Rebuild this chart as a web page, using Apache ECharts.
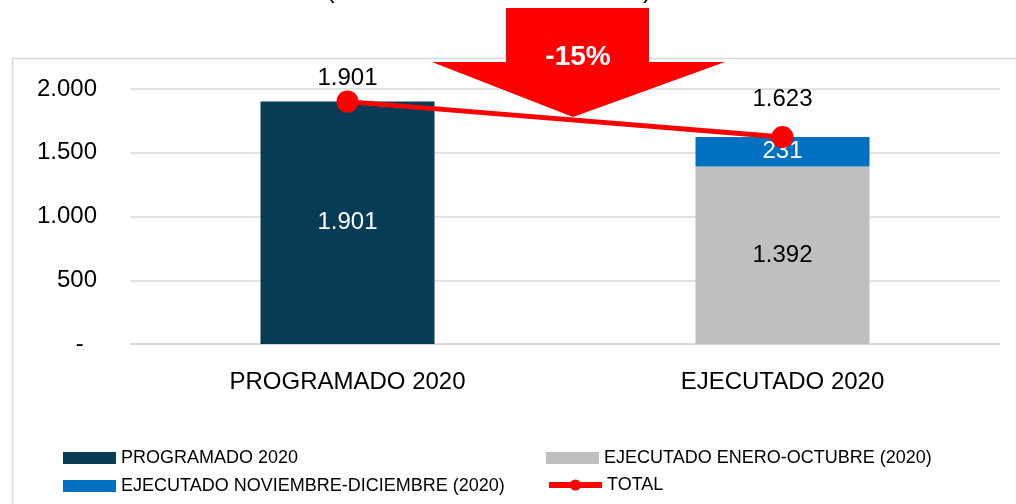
<!DOCTYPE html>
<html>
<head>
<meta charset="utf-8">
<script src="https://cdn.jsdelivr.net/npm/echarts@6/dist/echarts.min.js"></script>
<style>
html, body { margin: 0; padding: 0; background: #fff; }
#chart { width: 1016px; height: 504px; }
</style>
</head>
<body>
<div id="chart"></div>
<script>
// datos del grafico
var categorias = ['PROGRAMADO 2020', 'EJECUTADO 2020'];
var programado = [1901, null];
var eneroOctubre = [null, 1392];
var novDic = [null, 231];
var total = [1901, 1623];
var variacion = '-15%';

var fuente = 'Liberation Sans';

function fmt(v) {
    if (v === 0) return '-\u00a0\u00a0';
    return String(v).replace(/\B(?=(\d{3})+(?!\d))/g, '.');
}

var myChart = echarts.init(document.getElementById('chart'));

// distancia de etiqueta de cada punto del total
var distTotal = [0, 15];
var totalData = total.map(function (v, i) {
    return { value: v, label: { distance: distTotal[i] } };
});

// una leyenda por elemento, en dos columnas
function leyenda(nombre, x, y) {
    var esLinea = nombre === 'TOTAL';
    return {
        left: x, top: y, itemWidth: 53, itemHeight: esLinea ? 14 : 12, itemGap: 0,
        icon: esLinea ? undefined : 'rect',
        lineStyle: esLinea ? { width: 6 } : undefined,
        textStyle: { fontSize: 18, color: '#000', fontFamily: fuente, padding: [0, 0, 0, 0] },
        data: [nombre]
    };
}

var option = {
    backgroundColor: '#fff',
    animation: false,
    textStyle: { fontFamily: fuente },
    grid: { left: 130, right: 16, top: 89, bottom: 160 },
    legend: [
        leyenda('PROGRAMADO 2020', 58, 444),
        leyenda('EJECUTADO NOVIEMBRE-DICIEMBRE (2020)', 58, 472),
        leyenda('EJECUTADO ENERO-OCTUBRE (2020)', 541, 444),
        leyenda('TOTAL', 541, 471)
    ],
    xAxis: {
        type: 'category',
        data: categorias,
        axisLine: { lineStyle: { color: '#d9d9d9', width: 1.5 } },
        axisTick: { show: false },
        axisLabel: { fontSize: 24, color: '#000', margin: 26, fontFamily: fuente }
    },
    yAxis: {
        type: 'value',
        min: 0, max: 2000, interval: 500,
        axisLine: { show: false },
        axisTick: { show: false },
        splitLine: { lineStyle: { color: '#d9d9d9', width: 1.5 } },
        axisLabel: { fontSize: 24, color: '#000', margin: 33, formatter: fmt, fontFamily: fuente }
    },
    graphic: [
        {
            type: 'rect', left: 10, top: 56, z: -10, silent: true,
            shape: { width: 1020, height: 460 },
            style: { fill: 'none', stroke: '#d9d9d9', lineWidth: 1.5 }
        },
        {
            type: 'text', left: 326, top: -22, silent: true,
            style: { text: '(', fontSize: 26, fill: '#000', fontFamily: fuente }
        },
        {
            type: 'text', left: 643, top: -22, silent: true,
            style: { text: ')', fontSize: 26, fill: '#000', fontFamily: fuente }
        },
        {
            type: 'polygon', z: 5, silent: true,
            shape: { points: [[506, 8], [649, 8], [649, 62], [725, 62], [573, 117], [432, 62], [506, 62]] },
            style: { fill: '#ff0000' }
        },
        {
            type: 'text', z: 6, x: 578, y: 57, silent: true,
            style: {
                text: variacion, fill: '#fff', fontSize: 28, fontWeight: 'bold', fontFamily: fuente,
                align: 'center', verticalAlign: 'middle'
            }
        }
    ],
    series: [
        {
            name: 'PROGRAMADO 2020', type: 'bar', stack: 'a', barWidth: '40%',
            data: programado,
            itemStyle: { color: '#073c56' },
            label: { show: true, position: 'inside', color: '#fff', fontSize: 24, formatter: function (p) { return fmt(p.value); } }
        },
        {
            name: 'EJECUTADO ENERO-OCTUBRE (2020)', type: 'bar', stack: 'a', barWidth: '40%',
            data: eneroOctubre,
            itemStyle: { color: '#bfbfbf' },
            label: { show: true, position: 'inside', color: '#000', fontSize: 24, formatter: function (p) { return fmt(p.value); } }
        },
        {
            name: 'EJECUTADO NOVIEMBRE-DICIEMBRE (2020)', type: 'bar', stack: 'a', barWidth: '40%',
            data: novDic,
            itemStyle: { color: '#0070c0' },
            label: { show: true, position: 'inside', color: '#fff', fontSize: 24, formatter: function (p) { return fmt(p.value); } }
        },
        {
            name: 'TOTAL', type: 'line', z: 10,
            data: totalData,
            symbol: 'circle', symbolSize: 22,
            lineStyle: { color: '#ff0000', width: 5 },
            itemStyle: { color: '#ff0000' },
            label: { show: true, position: 'top', color: '#000', fontSize: 24, formatter: function (p) { return fmt(p.value); } }
        }
    ]
};

myChart.setOption(option);
</script>
</body>
</html>
